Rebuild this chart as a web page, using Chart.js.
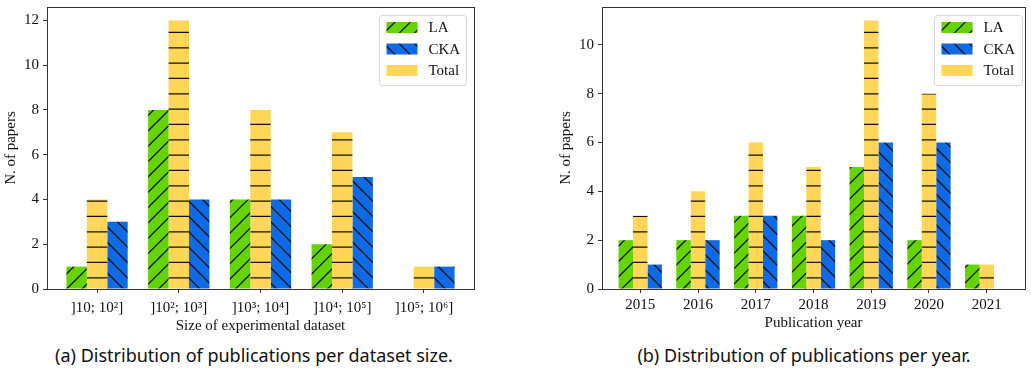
<!DOCTYPE html>
<html><head><meta charset="utf-8">
<script src="https://cdn.jsdelivr.net/npm/chart.js@4/dist/chart.umd.min.js"></script>
<style>
html,body{margin:0;padding:0;background:#fff;width:1031px;height:372px;overflow:hidden;position:relative}
canvas{position:absolute;top:0}
.cap{position:absolute;font-family:"Noto Sans";font-size:18px;color:#111;white-space:nowrap;transform:translateX(-50%)}
</style></head><body>
<canvas id="c1" width="515" height="337" style="left:0"></canvas>
<canvas id="c2" width="476" height="337" style="left:555px"></canvas>
<div class="cap" style="left:254px;top:343px">(a) Distribution of publications per dataset size.</div>
<div class="cap" style="left:804px;top:343px">(b) Distribution of publications per year.</div>
<script>
// ---- data ----
const sizeCategories = [']10; 10\u00B2]', ']10\u00B2; 10\u00B3]', ']10\u00B3; 10\u2074]', ']10\u2074; 10\u2075]', ']10\u2075; 10\u2076]'];
const sizeLA    = [1, 8, 4, 2, 0];
const sizeTotal = [4, 12, 8, 7, 1];
const sizeCKA   = [3, 4, 4, 5, 1];
const sizeYTicks = [0, 2, 4, 6, 8, 10, 12];

const yearCategories = ['2015', '2016', '2017', '2018', '2019', '2020', '2021'];
const yearLA    = [2, 2, 3, 3, 5, 2, 1];
const yearTotal = [3, 4, 6, 5, 11, 8, 1];
const yearCKA   = [1, 2, 3, 2, 6, 6, 0];
const yearYTicks = [0, 2, 4, 6, 8, 10];

const seriesNames = ['LA', 'Total', 'CKA'];
const legendOrder = [0, 2, 1];

// ---- styles ----
const GREEN = '#63d400', BLUE = '#0f6ae6', YELLOW = '#ffd658';
const SERIF = '"Liberation Serif", "DejaVu Serif", serif';

function hatch(bg, kind) {
  const P = 46, p = P / 3;
  const c = document.createElement('canvas');
  c.width = P; c.height = P;
  const g = c.getContext('2d');
  g.fillStyle = bg; g.fillRect(0, 0, P, P);
  g.strokeStyle = '#111'; g.lineWidth = 1.3;
  g.beginPath();
  if (kind === '/') {
    for (let k = -1; k <= 8; k++) { const cc = k * p + 3; g.moveTo(cc + 10, -10); g.lineTo(cc - 56, 56); }
  } else if (kind === '\\') {
    for (let k = -5; k <= 5; k++) { const cc = k * p + 3; g.moveTo(cc - 10, -10); g.lineTo(cc + 56, 56); }
  } else {
    for (let k = 0; k < 3; k++) { const y = k * p + 1.8; g.moveTo(-2, y); g.lineTo(P + 2, y); }
  }
  g.stroke();
  return g.createPattern(c, 'repeat');
}

const frameLegend = {
  id: 'frameLegend',
  afterDatasetsDraw(chart, args, o) {
    const { ctx, chartArea: a } = chart;
    ctx.save();
    ctx.strokeStyle = '#333'; ctx.lineWidth = 1;
    const L = Math.round(a.left) + 0.5, T = Math.round(a.top) + 0.5;
    ctx.strokeRect(L, T, Math.round(a.right) - Math.round(a.left), Math.round(a.bottom) - Math.round(a.top));
    // legend box
    const w = o.w, h = 70;
    const bx = Math.round(a.right - o.gap - w) + 0.5, by = Math.round(a.top + 8) + 0.5;
    ctx.beginPath();
    ctx.roundRect(bx, by, w, h, 3);
    ctx.fillStyle = 'rgba(255,255,255,0.85)';
    ctx.fill();
    ctx.strokeStyle = '#d6d6d6';
    ctx.stroke();
    ctx.font = '15px ' + SERIF;
    ctx.textBaseline = 'middle';
    ctx.textAlign = 'left';
    legendOrder.forEach((di, i) => {
      const ds = chart.data.datasets[di];
      const cy = by + 12 + i * 21.5;
      ctx.fillStyle = ds.backgroundColor;
      ctx.fillRect(bx + 7, cy - 5.5, 31, 11);
      ctx.fillStyle = '#111';
      ctx.fillText(ds.label, bx + 49, cy + 1);
    });
    ctx.restore();
  }
};

function makeChart(id, cats, la, total, cka, ymax, yticks, cfg) {
  const toPts = arr => arr.map((v, i) => ({ x: i, y: v }));
  const n = cats.length;
  return new Chart(document.getElementById(id), {
    type: 'bar',
    data: {
      datasets: [
        { label: seriesNames[0], data: toPts(la), backgroundColor: hatch(GREEN, '/') },
        { label: seriesNames[1], data: toPts(total), backgroundColor: hatch(YELLOW, '-') },
        { label: seriesNames[2], data: toPts(cka), backgroundColor: hatch(BLUE, '\\') }
      ]
    },
    options: {
      responsive: false,
      animation: false,
      events: [],
      categoryPercentage: 0.75,
      barPercentage: 1.0,
      borderWidth: 0,
      layout: { padding: { top: 7, right: cfg.padRight, left: 0, bottom: 0 } },
      plugins: { legend: { display: false }, tooltip: { enabled: false }, frameLegend: { w: cfg.legW, gap: cfg.legGap } },
      scales: {
        x: {
          type: 'linear',
          offset: false,
          min: -0.6125 - (n - 5) * 0.025, max: (n - 1) + 0.6125 + (n - 5) * 0.025,
          afterBuildTicks: s => { s.ticks = cats.map((c, i) => ({ value: i })); },
          afterFit: s => { s.height = 48; s.paddingLeft = 0; s.paddingRight = 0; },
          grid: { display: true, offset: false, drawOnChartArea: false, drawTicks: true, tickLength: 4, tickColor: '#333' },
          border: { display: false },
          ticks: { autoSkip: false, maxRotation: 0, padding: cfg.xTickPad, color: '#111', font: { family: SERIF, size: 15 },
                   callback: v => cats[Math.round(v)] },
          title: { display: true, text: cfg.xTitle, color: '#111', font: { family: SERIF, size: 15 }, padding: { top: 0, bottom: cfg.xTitlePad } }
        },
        y: {
          min: 0, max: ymax,
          afterBuildTicks: s => { s.ticks = yticks.map(v => ({ value: v })); },
          afterFit: s => { s.width = 47; s.paddingTop = 0; s.paddingBottom = 0; },
          grid: { display: true, drawOnChartArea: false, drawTicks: true, tickLength: 4, tickColor: '#333' },
          border: { display: false },
          ticks: { padding: 4, color: '#111', font: { family: SERIF, size: 15 } },
          title: { display: true, text: 'N. of papers', color: '#111', font: { family: SERIF, size: 15 }, padding: { top: 2, bottom: 0 } }
        }
      }
    },
    plugins: [frameLegend]
  });
}

makeChart('c1', sizeCategories, sizeLA, sizeTotal, sizeCKA, 12.6, sizeYTicks,
  { padRight: 41, legW: 87, legGap: 8, xTickPad: 6, xTitlePad: 2, xTitle: 'Size of experimental dataset' });
makeChart('c2', yearCategories, yearLA, yearTotal, yearCKA, 11.55, yearYTicks,
  { padRight: 6, legW: 88, legGap: 3, xTickPad: 3, xTitlePad: 5, xTitle: 'Publication year' });
</script>
</body></html>
